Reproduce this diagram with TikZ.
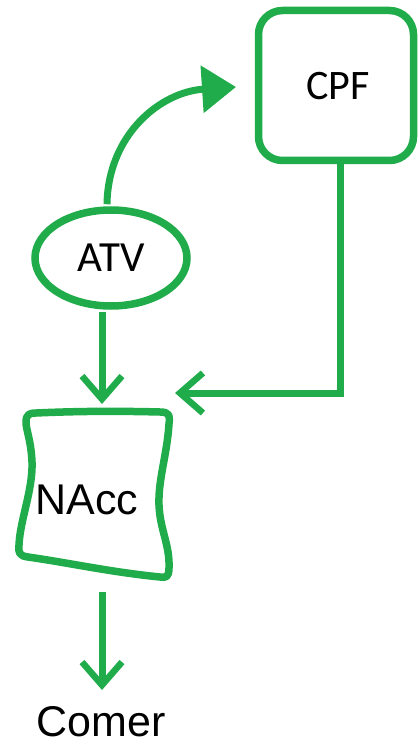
\documentclass[tikz,border=0pt]{standalone}
\usepackage{fontspec}
\newfontfamily\carl{Carlito}
\newfontfamily\libs{Liberation Sans}
\usetikzlibrary{arrows.meta,shapes.geometric}
\definecolor{gr}{RGB}{32,172,74}
\tikzset{
  shapeline/.style={draw=gr, line width=7.5pt},
  conn/.style={draw=gr, line width=7pt},
  chev/.style={conn, -{Straight Barb[length=23pt,width=40pt,line width=6.5pt]}},
  tri/.style={conn, -{Triangle[length=34pt,width=46pt]}},
}
\begin{document}
\begin{tikzpicture}[x=1pt,y=-1pt]
\useasboundingbox (0,0) rectangle (419,746);
% nodes
\node[shapeline, rectangle, rounded corners=24pt, minimum width=155pt, minimum height=150pt, inner sep=0pt] (CPF) at (336,85.5) {};
\node at (338,86) {\carl\fontsize{42}{46}\selectfont CPF};
\node[shapeline, ellipse, minimum width=152pt, minimum height=96pt, inner sep=0pt] (ATV) at (111,258) {\carl\fontsize{43}{47}\selectfont ATV};
\node[inner sep=0pt] (NAcc) at (87,500) {\libs\fontsize{43}{47}\selectfont NAcc};
\node[inner sep=0pt] (Comer) at (101,722) {\libs\fontsize{43}{47}\selectfont Comer};
% NAcc wavy outline
\draw[shapeline, line join=round]
  (36,413) .. controls (80,411) and (120,411) .. (160,412)
  .. controls (170,412) and (170,416) .. (169,424)
  .. controls (167,455) and (158,480) .. (159,505)
  .. controls (160,530) and (170,545) .. (169,568)
  .. controls (169,577) and (166,578) .. (160,577)
  .. controls (110,572) and (70,563) .. (28,557)
  .. controls (19,556) and (18,552) .. (19,545)
  .. controls (20,520) and (33,490) .. (32,462)
  .. controls (31,440) and (26,430) .. (26,422)
  .. controls (26,414) and (30,413) .. (36,413) -- cycle;
% coordinates
\coordinate (nTop) at (102,404);
\coordinate (nRight) at (175,393);
\coordinate (cpfIn) at (236,87);
\coordinate (nBot) at (102,592);
\coordinate (cTop) at (102,690);
% connectors
\draw[tri] ([xshift=-4pt,yshift=2pt]ATV.north) .. controls (108,135) and (160,92) .. (cpfIn);
\draw[chev] ([xshift=-9pt,yshift=-2pt]ATV.south) -- (nTop);
\draw[chev, line join=miter] ([xshift=4pt]CPF.south) |- (nRight);
\draw[chev] (nBot) -- (cTop);
\end{tikzpicture}
\end{document}
